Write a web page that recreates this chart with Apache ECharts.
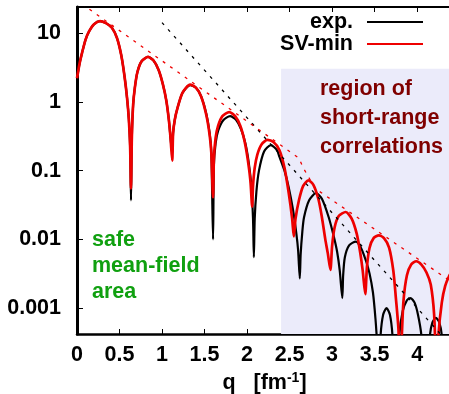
<!DOCTYPE html>
<html><head><meta charset="utf-8">
<script src="https://cdn.jsdelivr.net/npm/echarts@6/dist/echarts.min.js"></script>
<style>html,body{margin:0;padding:0;background:#fff}#c{width:449px;height:394px}</style>
</head><body><div id="c"></div>
<script>
// ---- data ----
const xTickLabels = ['0','0.5','1','1.5','2','2.5','3','3.5','4'];
const yTickLabels = ['0.001','0.01','0.1','1','10'];
const seriesNames = ['exp.','SV-min'];
const qExp = [0.00,0.03,0.06,0.10,0.14,0.20,0.27,0.34,0.41,0.47,0.52,0.56,0.59,0.61,0.625,0.635,0.645,0.66,0.68,0.71,0.76,0.835,0.90,0.96,1.01,1.05,1.08,1.10,1.12,1.13,1.15,1.18,1.24,1.33,1.40,1.46,1.52,1.56,1.58,1.60,1.61,1.63,1.66,1.72,1.80,1.87,1.93,1.98,2.02,2.05,2.07,2.08,2.09,2.11,2.14,2.20,2.28,2.35,2.38,2.44,2.49,2.54,2.58,2.60,2.62,2.63,2.65,2.67,2.73,2.81,2.88,2.96,3.02,3.06,3.09,3.12,3.13,3.15,3.20,3.28,3.34,3.40,3.44,3.48,3.51,3.53,3.55,3.57,3.60,3.64,3.68,3.71,3.73,3.76,3.79,3.83,3.88,3.92,3.97,4.01,4.05,4.08,4.12,4.15,4.18,4.22,4.26,4.29,4.31,4.36,4.41];
const vExp = [2.2,3.6,5.2,8.0,10.5,13.5,15,14,12,8.5,4.8,2.3,1.1,0.55,0.22,0.037,0.3,0.9,1.6,2.7,3.9,4.5,4.0,2.9,1.8,1.05,0.55,0.3,0.17,0.35,0.55,0.8,1.35,1.75,1.6,1.2,0.68,0.35,0.18,0.01,0.12,0.25,0.38,0.54,0.62,0.55,0.4,0.25,0.13,0.06,0.02,0.0055,0.02,0.05,0.1,0.19,0.235,0.2,0.16,0.1,0.057,0.027,0.012,0.007,0.0027,0.006,0.013,0.021,0.037,0.047,0.039,0.021,0.011,0.0065,0.0035,0.0014,0.003,0.0055,0.0082,0.0093,0.0075,0.0048,0.0032,0.0017,0.0007,0.0003,0.0001,0.0004,0.0008,0.001,0.0008,0.0004,0.0001,0.00005,0.0004,0.0009,0.0013,0.0014,0.0012,0.0008,0.0004,0.0001,0.0001,0.0004,0.00062,0.00072,0.00062,0.0004,0.0001,0.0001,0.0003];
const qSV = [0.00,0.03,0.06,0.10,0.14,0.20,0.27,0.34,0.41,0.47,0.52,0.56,0.59,0.61,0.625,0.635,0.645,0.66,0.68,0.71,0.76,0.835,0.90,0.96,1.01,1.05,1.08,1.10,1.12,1.13,1.15,1.18,1.24,1.33,1.40,1.46,1.52,1.56,1.58,1.60,1.61,1.63,1.66,1.71,1.79,1.86,1.92,1.97,2.01,2.04,2.06,2.07,2.09,2.12,2.17,2.24,2.31,2.38,2.44,2.49,2.53,2.55,2.57,2.61,2.66,2.72,2.78,2.84,2.88,2.92,2.95,2.98,3.00,3.03,3.08,3.16,3.23,3.29,3.33,3.36,3.39,3.41,3.44,3.49,3.55,3.61,3.67,3.72,3.75,3.78,3.80,3.82,3.84,3.88,3.93,3.99,4.05,4.11,4.16,4.20,4.23,4.25,4.29,4.33,4.38,4.41];
const vSV = [2.2,3.6,5.2,8.0,10.5,13.5,15,14,12,8.5,4.8,2.3,1.1,0.55,0.22,0.055,0.3,0.9,1.6,2.7,3.9,4.5,4.0,2.9,1.8,1.05,0.55,0.3,0.14,0.35,0.55,0.8,1.35,1.78,1.6,1.2,0.65,0.33,0.18,0.041,0.15,0.3,0.45,0.62,0.71,0.62,0.45,0.27,0.14,0.07,0.03,0.06,0.11,0.17,0.24,0.28,0.26,0.2,0.11,0.047,0.02,0.011,0.02,0.037,0.06,0.072,0.062,0.038,0.021,0.01,0.0062,0.0036,0.008,0.015,0.022,0.025,0.02,0.012,0.0065,0.0035,0.0016,0.004,0.0075,0.0105,0.0114,0.0104,0.0076,0.0035,0.0014,0.0005,0.0001,0.0004,0.0013,0.003,0.0043,0.0048,0.0043,0.0033,0.0022,0.0008,0.0001,0.0004,0.0012,0.0021,0.003,0.0034];
const qEnvExp = [1.00, 4.45];
const vEnvExp = [14.2, 0.00024];
const qEnvSV = [0.06, 2.61, 2.66, 2.80, 4.45];
const vEnvSV = [26.5, 0.152, 0.11, 0.055, 0.0022];
const regionQ = [2.4, 4.41];
const regionV = [0.00042, 3.03];
const xMin = 0, xMax = 4.41, yMin = 0.00042, yMax = 24;

const zip = (a, b) => a.map((x, i) => [x, b[i]]);
const F = 'Liberation Sans, Arial, sans-serif';
const chart = echarts.init(document.getElementById('c'));
const yFmt = v => { const e = Math.log10(v); const r = Math.round(e); if (Math.abs(e - r) > 1e-6) return ''; const i = r + 3; return (i >= 0 && i < yTickLabels.length) ? yTickLabels[i] : ''; };
const xFmt = v => { const i = Math.round(v / 0.5); if (Math.abs(v - i * 0.5) > 1e-6) return ''; return xTickLabels[i] || ''; };
const legendCommon = {
  orient: 'horizontal', align: 'right', right: 26, padding: 0,
  itemWidth: 56, itemHeight: 2, icon: 'rect',
  textStyle: {fontFamily: F, fontWeight: 'bold', fontSize: 21.5, color: '#000', padding: [0, 9, 0, 0]}
};
chart.setOption({
  animation: false,
  grid: {left: 77, top: 7, right: -3, bottom: 60, containLabel: false, outerBoundsMode: 'none'},
  legend: [
    Object.assign({}, legendCommon, {data: [seriesNames[0]], top: 11}),
    Object.assign({}, legendCommon, {data: [seriesNames[1]], top: 33})
  ],
  xAxis: [{
    type: 'value', min: xMin, max: xMax, interval: 0.5, position: 'bottom',
    axisLine: {show: true, onZero: false, lineStyle: {color: '#000', width: 2.5}},
    axisTick: {inside: true, length: 5, lineStyle: {color: '#000', width: 1}},
    axisLabel: {formatter: xFmt, showMaxLabel: false, margin: 10, color: '#000', fontFamily: F, fontWeight: 'bold', fontSize: 21.5},
    splitLine: {show: false},
    name: 'q   [fm{sup|-1}]', nameLocation: 'middle', nameGap: 34,
    nameTextStyle: {color: '#000', fontFamily: F, fontWeight: 'bold', fontSize: 21.5,
      rich: {sup: {fontFamily: F, fontWeight: 'bold', fontSize: 14, verticalAlign: 'top', padding: [0, 0, 10, 0], color: '#000'}}}
  }, {
    type: 'value', min: xMin, max: xMax, interval: 0.5, position: 'top',
    axisLine: {show: true, onZero: false, lineStyle: {color: '#000', width: 2}},
    axisTick: {show: true, inside: true, length: 5, lineStyle: {color: '#000', width: 1}},
    axisLabel: {show: false}, splitLine: {show: false}
  }],
  yAxis: [{
    type: 'log', logBase: 10, min: yMin, max: yMax, position: 'left',
    axisLine: {show: true, onZero: false, lineStyle: {color: '#000', width: 3}},
    axisTick: {show: true, inside: true, length: 6, lineStyle: {color: '#000', width: 1}},
    axisLabel: {formatter: yFmt, showMinLabel: false, showMaxLabel: false, margin: 16, color: '#000', fontFamily: F, fontWeight: 'bold', fontSize: 21.5},
    splitLine: {show: false}
  }],
  series: [{
    name: seriesNames[0], type: 'line', data: zip(qExp, vExp), showSymbol: false, symbol: 'none',
    smooth: 0.25, lineStyle: {color: '#000', width: 2.2}, itemStyle: {color: '#000'}, z: 3,
    markArea: {silent: true, z: 1, itemStyle: {color: '#ebebfa'},
      data: [[{coord: [regionQ[0], regionV[0]]}, {coord: [regionQ[1], regionV[1]]}]]}
  }, {
    name: seriesNames[1], type: 'line', data: zip(qSV, vSV), showSymbol: false, symbol: 'none',
    smooth: 0.25, lineStyle: {color: '#ee0000', width: 2.7}, itemStyle: {color: '#ee0000'}, z: 4
  }, {
    name: 'envExp', type: 'line', data: zip(qEnvExp, vEnvExp), showSymbol: false, symbol: 'none',
    lineStyle: {color: '#000', width: 1.3, type: [3, 6]}, z: 5
  }, {
    name: 'envSV', type: 'line', data: zip(qEnvSV, vEnvSV), showSymbol: false, symbol: 'none',
    lineStyle: {color: '#ee0000', width: 1.3, type: [3, 6]}, z: 5
  }],
  graphic: [
    {type: 'text', left: 320, top: 78, z: 10, style: {text: 'region of', font: 'bold 21.5px ' + F, fill: '#800000'}},
    {type: 'text', left: 320, top: 107, z: 10, style: {text: 'short-range', font: 'bold 21.5px ' + F, fill: '#800000'}},
    {type: 'text', left: 320, top: 136, z: 10, style: {text: 'correlations', font: 'bold 21.5px ' + F, fill: '#800000'}},
    {type: 'text', left: 92, top: 229, z: 10, style: {text: 'safe', font: 'bold 21.5px ' + F, fill: '#10a010'}},
    {type: 'text', left: 92, top: 255, z: 10, style: {text: 'mean-field', font: 'bold 21.5px ' + F, fill: '#10a010'}},
    {type: 'text', left: 92, top: 281, z: 10, style: {text: 'area', font: 'bold 21.5px ' + F, fill: '#10a010'}}
  ]
});
</script></body></html>
